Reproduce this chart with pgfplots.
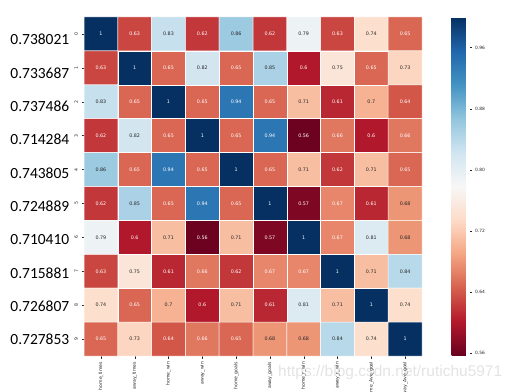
\documentclass[border=0pt]{standalone}
\usepackage{pgfplots}
\pgfplotsset{compat=1.18}
\usepackage{pgfplotstable}
\usepackage{fontspec}
\setmainfont{DejaVu Sans}
\newfontfamily\carlito{Carlito}
\newfontfamily\arialf{Liberation Sans}
\definecolor{darktxt}{gray}{0.15}
\pgfplotsset{/pgf/number format/assume math mode=true}
\pgfplotstableread{
x y c
0 0 1
1 0 0.63
2 0 0.83
3 0 0.62
4 0 0.86
5 0 0.62
6 0 0.79
7 0 0.63
8 0 0.74
9 0 0.65
0 1 0.63
1 1 1
2 1 0.65
3 1 0.82
4 1 0.65
5 1 0.85
6 1 0.60
7 1 0.75
8 1 0.65
9 1 0.73
0 2 0.83
1 2 0.65
2 2 1
3 2 0.65
4 2 0.94
5 2 0.65
6 2 0.71
7 2 0.61
8 2 0.70
9 2 0.64
0 3 0.62
1 3 0.82
2 3 0.65
3 3 1
4 3 0.65
5 3 0.94
6 3 0.56
7 3 0.66
8 3 0.60
9 3 0.66
0 4 0.86
1 4 0.65
2 4 0.94
3 4 0.65
4 4 1
5 4 0.65
6 4 0.71
7 4 0.62
8 4 0.71
9 4 0.65
0 5 0.62
1 5 0.85
2 5 0.65
3 5 0.94
4 5 0.65
5 5 1
6 5 0.57
7 5 0.67
8 5 0.61
9 5 0.68
0 6 0.79
1 6 0.60
2 6 0.71
3 6 0.56
4 6 0.71
5 6 0.57
6 6 1
7 6 0.67
8 6 0.81
9 6 0.68
0 7 0.63
1 7 0.75
2 7 0.61
3 7 0.66
4 7 0.62
5 7 0.67
6 7 0.67
7 7 1
8 7 0.71
9 7 0.84
0 8 0.74
1 8 0.65
2 8 0.70
3 8 0.60
4 8 0.71
5 8 0.61
6 8 0.81
7 8 0.71
8 8 1
9 8 0.74
0 9 0.65
1 9 0.73
2 9 0.64
3 9 0.66
4 9 0.65
5 9 0.68
6 9 0.68
7 9 0.84
8 9 0.74
9 9 1
}\heat
\pgfplotsset{
  annot/.style={only marks, mark=*, mark size=0pt, mark options={draw=none, fill=none},
    nodes near coords, point meta=explicit,
    every node near coord/.append style={anchor=center, inner sep=0pt, font=\fontsize{4.8}{5}\selectfont}},
}
\begin{document}
\begin{tikzpicture}
\useasboundingbox (0,0) rectangle (514pt,391pt);
\node[anchor=base west, inner sep=0pt, font=\arialf\fontsize{15.5}{16}\selectfont, text=black!11] at (278pt,15pt) {https://blog.csdn.net/rutichu5971};
\begin{axis}[
  at={(84pt,35pt)}, anchor=south west,
  scale only axis, width=338pt, height=339pt,
  xmin=-0.5, xmax=9.5, ymin=-0.5, ymax=9.5, y dir=reverse,
  enlargelimits=false, clip=false,
  axis line style={draw=none},
  xtick={0,...,9}, ytick={0,...,9},
  xticklabels={home\_times,away\_times,home\_win,away\_win,home\_goals,away\_goals,home\_r\_win,away\_r\_win,home\_Ave\_goal,away\_Ave\_goal},
  xtick pos=left, ytick pos=left,
  tick align=outside, major tick length=2.5pt,
  tick style={darktxt, line width=0.4pt},
  xticklabel style={rotate=90, anchor=east, font=\fontsize{4.6}{5}\selectfont, text=darktxt},
  yticklabel style={rotate=90, anchor=south, font=\fontsize{4.6}{5}\selectfont, text=darktxt},
  colormap={rdbu}{rgb255=(103,0,31) rgb255=(178,24,43) rgb255=(214,96,77) rgb255=(244,165,130) rgb255=(253,219,199) rgb255=(247,247,247) rgb255=(209,229,240) rgb255=(146,197,222) rgb255=(67,147,195) rgb255=(33,102,172) rgb255=(5,48,97)},
  point meta min=0.5565, point meta max=1,
  colorbar,
  colorbar style={
    at={(parent axis.north east)}, anchor=north west, xshift=21pt,
    scale only axis, width=18pt, height=339pt,
    axis line style={draw=none},
    ytick={0.56,0.64,0.72,0.80,0.88,0.96},
    yticklabel={\pgfmathprintnumber[fixed,precision=2,fixed zerofill]{\tick}},
    yticklabel style={font=\fontsize{4.4}{5}\selectfont, text=darktxt},
    ytick pos=right, tick align=outside, major tick length=2pt,
    tick style={darktxt, line width=0.4pt},
  },
]
\addplot[matrix plot*, mesh/cols=10, point meta=explicit, draw=white, line width=0.5pt] table[x=x, y=y, meta=c]{\heat};
\addplot[annot, every node near coord/.append style={text=white}, restrict expr to domain={\thisrow{c}}{0:0.675}] table[x=x, y=y, meta=c]{\heat};
\addplot[annot, every node near coord/.append style={text=white}, restrict expr to domain={\thisrow{c}}{0.9:1.1}] table[x=x, y=y, meta=c]{\heat};
\addplot[annot, every node near coord/.append style={text=darktxt}, restrict expr to domain={\thisrow{c}}{0.675:0.9}] table[x=x, y=y, meta=c]{\heat};
\end{axis}
\foreach \v [count=\i from 0] in {0.738021,0.733687,0.737486,0.714284,0.743805,0.724889,0.710410,0.715881,0.726807,0.727853}
  \node[anchor=base east, inner sep=0pt, font=\carlito\fontsize{15.5}{18}\selectfont] at (69.5pt,{346pt-\i*33.33pt}) {\v};
\end{tikzpicture}
\end{document}
